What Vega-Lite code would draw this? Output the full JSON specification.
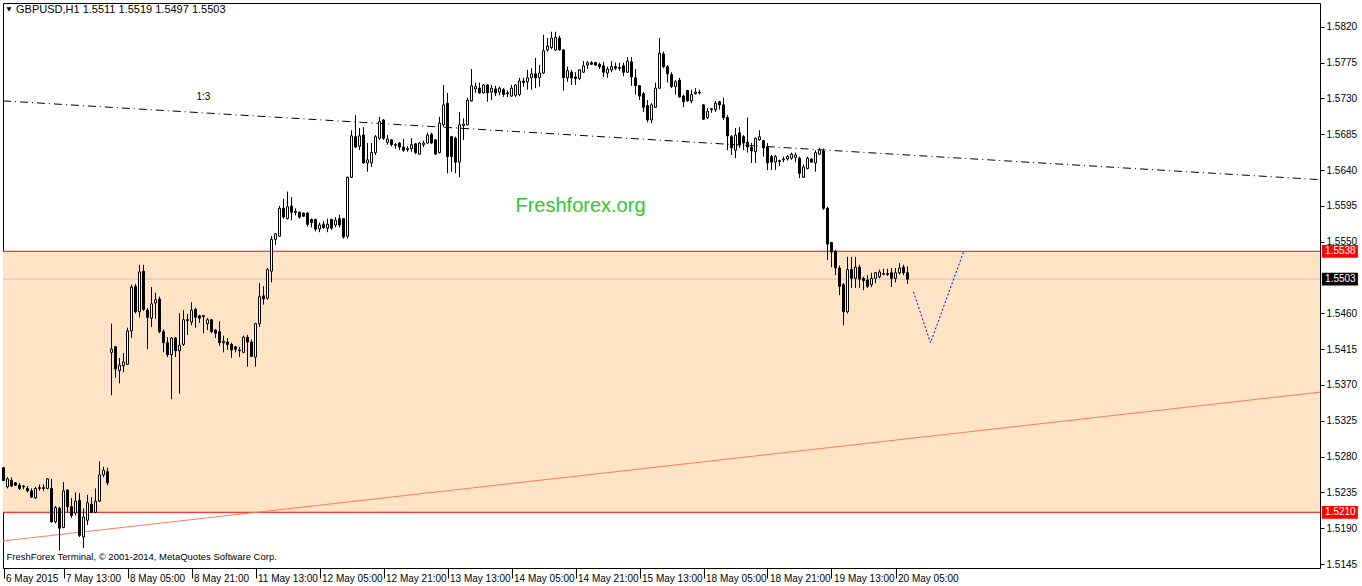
{
"$schema": "https://vega.github.io/schema/vega-lite/v6.json",
"width": 1317, "height": 565,
"autosize": {"type": "none"},
"padding": {"left": 3, "top": 3, "right": 42, "bottom": 18},
"background": "white",
"config": {"view": {"stroke": "black", "strokeWidth": 1}, "font": "Liberation Sans", "axis": {"labelOverlap": false, "grid": false}, "scale": {"continuousPadding": 0}},
"datasets": {
"candles": [
{"i":0,"o":1.5266,"h":1.5267,"l":1.5249,"c":1.5250},
{"i":1,"o":1.5242,"h":1.5254,"l":1.5240,"c":1.5252},
{"i":2,"o":1.5250,"h":1.5254,"l":1.5242,"c":1.5243},
{"i":3,"o":1.5247,"h":1.5248,"l":1.5243,"c":1.5244},
{"i":4,"o":1.5244,"h":1.5247,"l":1.5238,"c":1.5240},
{"i":5,"o":1.5243,"h":1.5244,"l":1.5239,"c":1.5242},
{"i":6,"o":1.5240,"h":1.5243,"l":1.5235,"c":1.5237},
{"i":7,"o":1.5237,"h":1.5240,"l":1.5228,"c":1.5229},
{"i":8,"o":1.5228,"h":1.5242,"l":1.5227,"c":1.5240},
{"i":9,"o":1.5240,"h":1.5245,"l":1.5237,"c":1.5241},
{"i":10,"o":1.5241,"h":1.5245,"l":1.5237,"c":1.5240},
{"i":11,"o":1.5240,"h":1.5253,"l":1.5239,"c":1.5252},
{"i":12,"o":1.5240,"h":1.5252,"l":1.5197,"c":1.5198},
{"i":13,"o":1.5198,"h":1.5218,"l":1.5196,"c":1.5216},
{"i":14,"o":1.5215,"h":1.5217,"l":1.5162,"c":1.5190},
{"i":15,"o":1.5191,"h":1.5248,"l":1.5190,"c":1.5237},
{"i":16,"o":1.5238,"h":1.5239,"l":1.5210,"c":1.5217},
{"i":17,"o":1.5217,"h":1.5228,"l":1.5203,"c":1.5206},
{"i":18,"o":1.5209,"h":1.5235,"l":1.5206,"c":1.5224},
{"i":19,"o":1.5225,"h":1.5234,"l":1.5179,"c":1.5181},
{"i":20,"o":1.5179,"h":1.5215,"l":1.5165,"c":1.5204},
{"i":21,"o":1.5200,"h":1.5232,"l":1.5194,"c":1.5222},
{"i":22,"o":1.5220,"h":1.5229,"l":1.5209,"c":1.5210},
{"i":23,"o":1.5210,"h":1.5240,"l":1.5209,"c":1.5224},
{"i":24,"o":1.5224,"h":1.5274,"l":1.5223,"c":1.5257},
{"i":25,"o":1.5257,"h":1.5267,"l":1.5254,"c":1.5263},
{"i":26,"o":1.5261,"h":1.5266,"l":1.5244,"c":1.5247},
{"i":27,"o":1.5411,"h":1.5447,"l":1.5357,"c":1.5415},
{"i":28,"o":1.5418,"h":1.5419,"l":1.5379,"c":1.5390},
{"i":29,"o":1.5388,"h":1.5404,"l":1.5372,"c":1.5395},
{"i":30,"o":1.5394,"h":1.5410,"l":1.5386,"c":1.5399},
{"i":31,"o":1.5396,"h":1.5442,"l":1.5395,"c":1.5438},
{"i":32,"o":1.5438,"h":1.5496,"l":1.5429,"c":1.5493},
{"i":33,"o":1.5494,"h":1.5497,"l":1.5460,"c":1.5462},
{"i":34,"o":1.5462,"h":1.5521,"l":1.5455,"c":1.5512},
{"i":35,"o":1.5513,"h":1.5521,"l":1.5463,"c":1.5465},
{"i":36,"o":1.5464,"h":1.5467,"l":1.5415,"c":1.5455},
{"i":37,"o":1.5454,"h":1.5493,"l":1.5443,"c":1.5472},
{"i":38,"o":1.5473,"h":1.5486,"l":1.5453,"c":1.5477},
{"i":39,"o":1.5478,"h":1.5481,"l":1.5435,"c":1.5437},
{"i":40,"o":1.5437,"h":1.5440,"l":1.5411,"c":1.5423},
{"i":41,"o":1.5423,"h":1.5430,"l":1.5405,"c":1.5408},
{"i":42,"o":1.5408,"h":1.5430,"l":1.5352,"c":1.5429},
{"i":43,"o":1.5429,"h":1.5430,"l":1.5405,"c":1.5413},
{"i":44,"o":1.5413,"h":1.5460,"l":1.5359,"c":1.5420},
{"i":45,"o":1.5421,"h":1.5464,"l":1.5419,"c":1.5452},
{"i":46,"o":1.5452,"h":1.5459,"l":1.5433,"c":1.5451},
{"i":47,"o":1.5449,"h":1.5474,"l":1.5445,"c":1.5464},
{"i":48,"o":1.5465,"h":1.5467,"l":1.5442,"c":1.5455},
{"i":49,"o":1.5457,"h":1.5458,"l":1.5448,"c":1.5454},
{"i":50,"o":1.5457,"h":1.5458,"l":1.5435,"c":1.5456},
{"i":51,"o":1.5447,"h":1.5454,"l":1.5439,"c":1.5452},
{"i":52,"o":1.5452,"h":1.5453,"l":1.5435,"c":1.5437},
{"i":53,"o":1.5439,"h":1.5440,"l":1.5429,"c":1.5435},
{"i":54,"o":1.5437,"h":1.5450,"l":1.5419,"c":1.5423},
{"i":55,"o":1.5423,"h":1.5432,"l":1.5411,"c":1.5425},
{"i":56,"o":1.5424,"h":1.5429,"l":1.5414,"c":1.5421},
{"i":57,"o":1.5421,"h":1.5423,"l":1.5404,"c":1.5414},
{"i":58,"o":1.5418,"h":1.5419,"l":1.5411,"c":1.5415},
{"i":59,"o":1.5414,"h":1.5418,"l":1.5405,"c":1.5413},
{"i":60,"o":1.5411,"h":1.5432,"l":1.5410,"c":1.5430},
{"i":61,"o":1.5430,"h":1.5433,"l":1.5393,"c":1.5424},
{"i":62,"o":1.5424,"h":1.5427,"l":1.5405,"c":1.5406},
{"i":63,"o":1.5405,"h":1.5448,"l":1.5393,"c":1.5447},
{"i":64,"o":1.5447,"h":1.5498,"l":1.5443,"c":1.5481},
{"i":65,"o":1.5482,"h":1.5494,"l":1.5471,"c":1.5478},
{"i":66,"o":1.5479,"h":1.5517,"l":1.5477,"c":1.5515},
{"i":67,"o":1.5513,"h":1.5557,"l":1.5499,"c":1.5553},
{"i":68,"o":1.5553,"h":1.5561,"l":1.5546,"c":1.5560},
{"i":69,"o":1.5557,"h":1.5595,"l":1.5556,"c":1.5592},
{"i":70,"o":1.5592,"h":1.5604,"l":1.5579,"c":1.5581},
{"i":71,"o":1.5579,"h":1.5613,"l":1.5578,"c":1.5594},
{"i":72,"o":1.5595,"h":1.5606,"l":1.5577,"c":1.5587},
{"i":73,"o":1.5588,"h":1.5592,"l":1.5583,"c":1.5587},
{"i":74,"o":1.5587,"h":1.5588,"l":1.5579,"c":1.5581},
{"i":75,"o":1.5586,"h":1.5587,"l":1.5581,"c":1.5582},
{"i":76,"o":1.5586,"h":1.5587,"l":1.5569,"c":1.5572},
{"i":77,"o":1.5578,"h":1.5579,"l":1.5568,"c":1.5574},
{"i":78,"o":1.5578,"h":1.5579,"l":1.5563,"c":1.5566},
{"i":79,"o":1.5566,"h":1.5574,"l":1.5562,"c":1.5571},
{"i":80,"o":1.5572,"h":1.5576,"l":1.5566,"c":1.5568},
{"i":81,"o":1.5567,"h":1.5579,"l":1.5562,"c":1.5572},
{"i":82,"o":1.5578,"h":1.5579,"l":1.5565,"c":1.5567},
{"i":83,"o":1.5571,"h":1.5581,"l":1.5568,"c":1.5577},
{"i":84,"o":1.5579,"h":1.5584,"l":1.5568,"c":1.5571},
{"i":85,"o":1.5579,"h":1.5580,"l":1.5554,"c":1.5556},
{"i":86,"o":1.5557,"h":1.5632,"l":1.5554,"c":1.5631},
{"i":87,"o":1.5631,"h":1.5690,"l":1.5630,"c":1.5683},
{"i":88,"o":1.5682,"h":1.5709,"l":1.5668,"c":1.5669},
{"i":89,"o":1.5670,"h":1.5693,"l":1.5665,"c":1.5683},
{"i":90,"o":1.5684,"h":1.5694,"l":1.5648,"c":1.5649},
{"i":91,"o":1.5649,"h":1.5674,"l":1.5638,"c":1.5653},
{"i":92,"o":1.5649,"h":1.5674,"l":1.5644,"c":1.5662},
{"i":93,"o":1.5662,"h":1.5684,"l":1.5659,"c":1.5682},
{"i":94,"o":1.5680,"h":1.5707,"l":1.5678,"c":1.5701},
{"i":95,"o":1.5703,"h":1.5704,"l":1.5678,"c":1.5680},
{"i":96,"o":1.5675,"h":1.5684,"l":1.5672,"c":1.5679},
{"i":97,"o":1.5678,"h":1.5679,"l":1.5670,"c":1.5672},
{"i":98,"o":1.5672,"h":1.5674,"l":1.5667,"c":1.5671},
{"i":99,"o":1.5674,"h":1.5675,"l":1.5665,"c":1.5669},
{"i":100,"o":1.5669,"h":1.5679,"l":1.5663,"c":1.5665},
{"i":101,"o":1.5667,"h":1.5670,"l":1.5663,"c":1.5666},
{"i":102,"o":1.5667,"h":1.5680,"l":1.5663,"c":1.5672},
{"i":103,"o":1.5673,"h":1.5674,"l":1.5660,"c":1.5662},
{"i":104,"o":1.5660,"h":1.5675,"l":1.5659,"c":1.5674},
{"i":105,"o":1.5672,"h":1.5677,"l":1.5669,"c":1.5674},
{"i":106,"o":1.5674,"h":1.5687,"l":1.5673,"c":1.5684},
{"i":107,"o":1.5685,"h":1.5687,"l":1.5673,"c":1.5674},
{"i":108,"o":1.5678,"h":1.5679,"l":1.5659,"c":1.5660},
{"i":109,"o":1.5662,"h":1.5707,"l":1.5661,"c":1.5699},
{"i":110,"o":1.5697,"h":1.5747,"l":1.5694,"c":1.5722},
{"i":111,"o":1.5724,"h":1.5737,"l":1.5636,"c":1.5657},
{"i":112,"o":1.5682,"h":1.5683,"l":1.5638,"c":1.5657},
{"i":113,"o":1.5680,"h":1.5682,"l":1.5636,"c":1.5650},
{"i":114,"o":1.5650,"h":1.5713,"l":1.5631,"c":1.5697},
{"i":115,"o":1.5696,"h":1.5705,"l":1.5678,"c":1.5698},
{"i":116,"o":1.5697,"h":1.5731,"l":1.5696,"c":1.5728},
{"i":117,"o":1.5727,"h":1.5767,"l":1.5726,"c":1.5746},
{"i":118,"o":1.5742,"h":1.5750,"l":1.5737,"c":1.5745},
{"i":119,"o":1.5743,"h":1.5750,"l":1.5736,"c":1.5737},
{"i":120,"o":1.5737,"h":1.5748,"l":1.5736,"c":1.5747},
{"i":121,"o":1.5747,"h":1.5748,"l":1.5726,"c":1.5737},
{"i":122,"o":1.5738,"h":1.5747,"l":1.5728,"c":1.5743},
{"i":123,"o":1.5742,"h":1.5746,"l":1.5733,"c":1.5737},
{"i":124,"o":1.5738,"h":1.5745,"l":1.5734,"c":1.5743},
{"i":125,"o":1.5741,"h":1.5743,"l":1.5732,"c":1.5735},
{"i":126,"o":1.5737,"h":1.5740,"l":1.5732,"c":1.5736},
{"i":127,"o":1.5733,"h":1.5747,"l":1.5732,"c":1.5743},
{"i":128,"o":1.5734,"h":1.5748,"l":1.5732,"c":1.5747},
{"i":129,"o":1.5735,"h":1.5756,"l":1.5733,"c":1.5752},
{"i":130,"o":1.5752,"h":1.5756,"l":1.5745,"c":1.5750},
{"i":131,"o":1.5751,"h":1.5766,"l":1.5741,"c":1.5756},
{"i":132,"o":1.5756,"h":1.5768,"l":1.5741,"c":1.5761},
{"i":133,"o":1.5761,"h":1.5781,"l":1.5743,"c":1.5756},
{"i":134,"o":1.5756,"h":1.5772,"l":1.5745,"c":1.5762},
{"i":135,"o":1.5762,"h":1.5810,"l":1.5761,"c":1.5790},
{"i":136,"o":1.5791,"h":1.5806,"l":1.5789,"c":1.5796},
{"i":137,"o":1.5794,"h":1.5814,"l":1.5792,"c":1.5806},
{"i":138,"o":1.5791,"h":1.5814,"l":1.5790,"c":1.5807},
{"i":139,"o":1.5806,"h":1.5809,"l":1.5790,"c":1.5791},
{"i":140,"o":1.5791,"h":1.5792,"l":1.5740,"c":1.5756},
{"i":141,"o":1.5756,"h":1.5770,"l":1.5751,"c":1.5765},
{"i":142,"o":1.5763,"h":1.5766,"l":1.5747,"c":1.5756},
{"i":143,"o":1.5757,"h":1.5763,"l":1.5747,"c":1.5755},
{"i":144,"o":1.5755,"h":1.5767,"l":1.5753,"c":1.5766},
{"i":145,"o":1.5763,"h":1.5777,"l":1.5762,"c":1.5771},
{"i":146,"o":1.5772,"h":1.5777,"l":1.5767,"c":1.5775},
{"i":147,"o":1.5775,"h":1.5777,"l":1.5772,"c":1.5773},
{"i":148,"o":1.5775,"h":1.5776,"l":1.5771,"c":1.5772},
{"i":149,"o":1.5773,"h":1.5775,"l":1.5767,"c":1.5770},
{"i":150,"o":1.5771,"h":1.5776,"l":1.5757,"c":1.5763},
{"i":151,"o":1.5762,"h":1.5770,"l":1.5756,"c":1.5767},
{"i":152,"o":1.5766,"h":1.5777,"l":1.5763,"c":1.5770},
{"i":153,"o":1.5770,"h":1.5775,"l":1.5766,"c":1.5768},
{"i":154,"o":1.5769,"h":1.5775,"l":1.5765,"c":1.5768},
{"i":155,"o":1.5771,"h":1.5775,"l":1.5758,"c":1.5763},
{"i":156,"o":1.5763,"h":1.5782,"l":1.5762,"c":1.5777},
{"i":157,"o":1.5776,"h":1.5782,"l":1.5746,"c":1.5757},
{"i":158,"o":1.5756,"h":1.5767,"l":1.5735,"c":1.5746},
{"i":159,"o":1.5746,"h":1.5747,"l":1.5728,"c":1.5733},
{"i":160,"o":1.5736,"h":1.5738,"l":1.5713,"c":1.5719},
{"i":161,"o":1.5721,"h":1.5728,"l":1.5700,"c":1.5703},
{"i":162,"o":1.5703,"h":1.5724,"l":1.5699,"c":1.5722},
{"i":163,"o":1.5719,"h":1.5750,"l":1.5718,"c":1.5743},
{"i":164,"o":1.5743,"h":1.5806,"l":1.5742,"c":1.5787},
{"i":165,"o":1.5786,"h":1.5789,"l":1.5768,"c":1.5770},
{"i":166,"o":1.5770,"h":1.5772,"l":1.5750,"c":1.5761},
{"i":167,"o":1.5760,"h":1.5763,"l":1.5743,"c":1.5745},
{"i":168,"o":1.5745,"h":1.5753,"l":1.5735,"c":1.5751},
{"i":169,"o":1.5753,"h":1.5756,"l":1.5731,"c":1.5732},
{"i":170,"o":1.5733,"h":1.5735,"l":1.5719,"c":1.5726},
{"i":171,"o":1.5740,"h":1.5741,"l":1.5726,"c":1.5727},
{"i":172,"o":1.5727,"h":1.5741,"l":1.5724,"c":1.5735},
{"i":173,"o":1.5736,"h":1.5743,"l":1.5735,"c":1.5738},
{"i":174,"o":1.5738,"h":1.5741,"l":1.5735,"c":1.5737},
{"i":175,"o":1.5722,"h":1.5723,"l":1.5703,"c":1.5704},
{"i":176,"o":1.5706,"h":1.5718,"l":1.5704,"c":1.5714},
{"i":177,"o":1.5716,"h":1.5718,"l":1.5712,"c":1.5717},
{"i":178,"o":1.5716,"h":1.5727,"l":1.5713,"c":1.5724},
{"i":179,"o":1.5726,"h":1.5727,"l":1.5716,"c":1.5722},
{"i":180,"o":1.5722,"h":1.5731,"l":1.5703,"c":1.5706},
{"i":181,"o":1.5706,"h":1.5709,"l":1.5665,"c":1.5683},
{"i":182,"o":1.5682,"h":1.5684,"l":1.5659,"c":1.5668},
{"i":183,"o":1.5665,"h":1.5693,"l":1.5655,"c":1.5684},
{"i":184,"o":1.5687,"h":1.5694,"l":1.5668,"c":1.5672},
{"i":185,"o":1.5682,"h":1.5684,"l":1.5665,"c":1.5674},
{"i":186,"o":1.5675,"h":1.5706,"l":1.5662,"c":1.5669},
{"i":187,"o":1.5669,"h":1.5674,"l":1.5649,"c":1.5664},
{"i":188,"o":1.5663,"h":1.5681,"l":1.5649,"c":1.5680},
{"i":189,"o":1.5678,"h":1.5690,"l":1.5677,"c":1.5682},
{"i":190,"o":1.5677,"h":1.5678,"l":1.5657,"c":1.5668},
{"i":191,"o":1.5669,"h":1.5674,"l":1.5640,"c":1.5649},
{"i":192,"o":1.5657,"h":1.5659,"l":1.5640,"c":1.5650},
{"i":193,"o":1.5650,"h":1.5659,"l":1.5640,"c":1.5657},
{"i":194,"o":1.5652,"h":1.5653,"l":1.5645,"c":1.5651},
{"i":195,"o":1.5653,"h":1.5657,"l":1.5650,"c":1.5654},
{"i":196,"o":1.5654,"h":1.5659,"l":1.5652,"c":1.5657},
{"i":197,"o":1.5655,"h":1.5662,"l":1.5653,"c":1.5660},
{"i":198,"o":1.5656,"h":1.5662,"l":1.5650,"c":1.5659},
{"i":199,"o":1.5655,"h":1.5657,"l":1.5630,"c":1.5636},
{"i":200,"o":1.5631,"h":1.5647,"l":1.5630,"c":1.5644},
{"i":201,"o":1.5642,"h":1.5657,"l":1.5641,"c":1.5655},
{"i":202,"o":1.5654,"h":1.5655,"l":1.5649,"c":1.5650},
{"i":203,"o":1.5649,"h":1.5665,"l":1.5638,"c":1.5662},
{"i":204,"o":1.5660,"h":1.5668,"l":1.5659,"c":1.5665},
{"i":205,"o":1.5664,"h":1.5667,"l":1.5590,"c":1.5592},
{"i":206,"o":1.5592,"h":1.5594,"l":1.5527,"c":1.5547},
{"i":207,"o":1.5549,"h":1.5550,"l":1.5518,"c":1.5537},
{"i":208,"o":1.5538,"h":1.5540,"l":1.5508,"c":1.5517},
{"i":209,"o":1.5517,"h":1.5520,"l":1.5483,"c":1.5494},
{"i":210,"o":1.5496,"h":1.5498,"l":1.5445,"c":1.5462},
{"i":211,"o":1.5462,"h":1.5531,"l":1.5460,"c":1.5515},
{"i":212,"o":1.5515,"h":1.5531,"l":1.5492,"c":1.5504},
{"i":213,"o":1.5504,"h":1.5531,"l":1.5492,"c":1.5518},
{"i":214,"o":1.5518,"h":1.5521,"l":1.5492,"c":1.5503},
{"i":215,"o":1.5504,"h":1.5506,"l":1.5489,"c":1.5501},
{"i":216,"o":1.5502,"h":1.5508,"l":1.5492,"c":1.5494},
{"i":217,"o":1.5496,"h":1.5511,"l":1.5493,"c":1.5504},
{"i":218,"o":1.5504,"h":1.5512,"l":1.5498,"c":1.5511},
{"i":219,"o":1.5506,"h":1.5515,"l":1.5504,"c":1.5512},
{"i":220,"o":1.5509,"h":1.5516,"l":1.5508,"c":1.5510},
{"i":221,"o":1.5510,"h":1.5516,"l":1.5507,"c":1.5509},
{"i":222,"o":1.5511,"h":1.5517,"l":1.5493,"c":1.5504},
{"i":223,"o":1.5504,"h":1.5517,"l":1.5499,"c":1.5511},
{"i":224,"o":1.5511,"h":1.5523,"l":1.5509,"c":1.5517},
{"i":225,"o":1.5518,"h":1.5521,"l":1.5508,"c":1.5511},
{"i":226,"o":1.5511,"h":1.5519,"l":1.5497,"c":1.5503}
],
"trend": [{"i":-0.125,"p":1.5174},{"i":329.125,"p":1.5361}],
"fib": [{"i":-0.125,"p":1.5727},{"i":329.125,"p":1.5628}],
"path": [{"i":227.5,"p":1.5487},{"i":231.75,"p":1.5423},{"i":240,"p":1.5537}]
},
"layer": [
{"data": {"values": [{}]},
 "mark": {"type": "rect", "color": "#fee3c5"},
 "encoding": {
  "x": {"datum": -0.125, "type": "quantitative", "scale": {"domain": [-0.125, 329.125], "nice": false, "zero": false, "padding": 0},
   "axis": {"orient": "bottom", "title": null, "grid": false, "domain": false, "tickColor": "black", "tickSize": 10,
    "values": [0,15,31,47,63,79,95,111,127,143,159,175,191,207,223],
    "labelExpr": "datum.value == 0 ? '6 May 2015' : ['7 May 13:00','8 May 05:00','8 May 21:00','11 May 13:00','12 May 05:00','12 May 21:00','13 May 13:00','14 May 05:00','14 May 21:00','15 May 13:00','18 May 05:00','18 May 21:00','19 May 13:00','20 May 05:00'][(datum.value-15)/16]",
    "labelAlign": "left", "labelBaseline": "top", "labelPadding": -5, "labelOffset": 2, "labelFontSize": 10, "labelColor": "black", "labelFlush": false, "labelOverlap": false}},
  "x2": {"datum": 329.125},
  "y": {"datum": 1.5538, "type": "quantitative", "scale": {"domain": [1.514, 1.585], "nice": false, "zero": false, "padding": 0},
   "axis": {"orient": "right", "title": null, "grid": false, "domain": false, "tickColor": "black", "tickSize": 4,
    "values": [1.5145,1.5190,1.5235,1.5280,1.5325,1.5370,1.5415,1.5460,1.5550,1.5595,1.5640,1.5685,1.5730,1.5775,1.5820],
    "format": ".4f", "labelPadding": 2, "labelFontSize": 10, "labelColor": "black", "labelFlush": false, "labelOverlap": false}},
  "y2": {"datum": 1.5210}
 }},
{"data": {"values": [{}]}, "mark": {"type": "rule", "color": "#c0c0c0", "strokeWidth": 1},
 "encoding": {"y": {"datum": 1.5503, "type": "quantitative"}}},
{"data": {"values": [{}]}, "mark": {"type": "rule", "color": "#ff0000", "strokeWidth": 1},
 "encoding": {"y": {"datum": 1.5538, "type": "quantitative"}}},
{"data": {"values": [{}]}, "mark": {"type": "rule", "color": "#ff0000", "strokeWidth": 1},
 "encoding": {"y": {"datum": 1.5210, "type": "quantitative"}}},
{"data": {"name": "trend"}, "mark": {"type": "line", "color": "#fa7c5c", "strokeWidth": 1},
 "encoding": {"x": {"field": "i", "type": "quantitative"}, "y": {"field": "p", "type": "quantitative"}}},
{"data": {"name": "fib"}, "mark": {"type": "line", "color": "black", "strokeWidth": 1, "strokeDash": [8, 4, 1, 4]},
 "encoding": {"x": {"field": "i", "type": "quantitative"}, "y": {"field": "p", "type": "quantitative"}}},
{"data": {"name": "candles"}, "mark": {"type": "rule", "color": "black", "strokeWidth": 1},
 "encoding": {"x": {"field": "i", "type": "quantitative"}, "y": {"field": "l", "type": "quantitative"}, "y2": {"field": "h"}}},
{"data": {"name": "candles"}, "mark": {"type": "bar", "width": 2, "stroke": "black", "strokeWidth": 1},
 "encoding": {"x": {"field": "i", "type": "quantitative"}, "y": {"field": "o", "type": "quantitative"}, "y2": {"field": "c"},
  "fill": {"condition": {"test": "datum.c > datum.o", "value": "white"}, "value": "black"}}},
{"data": {"name": "path"}, "mark": {"type": "line", "color": "#0000ff", "strokeWidth": 1, "strokeDash": [2, 2]},
 "encoding": {"x": {"field": "i", "type": "quantitative"}, "y": {"field": "p", "type": "quantitative"}}},
{"data": {"values": [{}]}, "mark": {"type": "text", "text": "1:3", "align": "left", "baseline": "middle", "fontSize": 10, "color": "black"},
 "encoding": {"x": {"datum": 48.25, "type": "quantitative"}, "y": {"datum": 1.5732, "type": "quantitative"}}},
{"data": {"values": [{}]}, "mark": {"type": "text", "text": "Freshforex.org", "align": "center", "baseline": "middle", "fontSize": 20, "color": "#2ec82e", "font": "Liberation Sans"},
 "encoding": {"x": {"datum": 144.25, "type": "quantitative"}, "y": {"datum": 1.5595, "type": "quantitative"}}},
{"data": {"values": [{}]}, "mark": {"type": "point", "shape": "triangle-down", "filled": true, "color": "black", "size": 25, "opacity": 1},
 "encoding": {"x": {"datum": 1.375, "type": "quantitative"}, "y": {"datum": 1.5842, "type": "quantitative"}}},
{"data": {"values": [{}]}, "mark": {"type": "text", "text": "GBPUSD,H1  1.5511 1.5519 1.5497 1.5503", "align": "left", "baseline": "middle", "fontSize": 11, "color": "black"},
 "encoding": {"x": {"datum": 3.125, "type": "quantitative"}, "y": {"datum": 1.5841, "type": "quantitative"}}},
{"data": {"values": [{}]}, "mark": {"type": "text", "text": "FreshForex Terminal, © 2001-2014, MetaQuotes Software Corp.", "align": "left", "baseline": "middle", "fontSize": 9.5, "color": "black"},
 "encoding": {"x": {"datum": 0.75, "type": "quantitative"}, "y": {"datum": 1.5154, "type": "quantitative"}}},
{"data": {"values": [{}]}, "mark": {"type": "rect", "color": "#ff0000", "clip": false},
 "encoding": {"x": {"datum": 329.6, "type": "quantitative"}, "x2": {"datum": 338.6}, "y": {"datum": 1.5546, "type": "quantitative"}, "y2": {"datum": 1.5530}}},
{"data": {"values": [{}]}, "mark": {"type": "rect", "color": "#000000", "clip": false},
 "encoding": {"x": {"datum": 329.6, "type": "quantitative"}, "x2": {"datum": 338.6}, "y": {"datum": 1.5511, "type": "quantitative"}, "y2": {"datum": 1.5495}}},
{"data": {"values": [{}]}, "mark": {"type": "rect", "color": "#ff0000", "clip": false},
 "encoding": {"x": {"datum": 329.6, "type": "quantitative"}, "x2": {"datum": 338.6}, "y": {"datum": 1.5218, "type": "quantitative"}, "y2": {"datum": 1.5202}}},
{"data": {"values": [{}]}, "mark": {"type": "text", "text": "1.5538", "align": "left", "baseline": "middle", "fontSize": 10, "color": "white", "clip": false},
 "encoding": {"x": {"datum": 330.4, "type": "quantitative"}, "y": {"datum": 1.5538, "type": "quantitative"}}},
{"data": {"values": [{}]}, "mark": {"type": "text", "text": "1.5503", "align": "left", "baseline": "middle", "fontSize": 10, "color": "white", "clip": false},
 "encoding": {"x": {"datum": 330.4, "type": "quantitative"}, "y": {"datum": 1.5503, "type": "quantitative"}}},
{"data": {"values": [{}]}, "mark": {"type": "text", "text": "1.5210", "align": "left", "baseline": "middle", "fontSize": 10, "color": "white", "clip": false},
 "encoding": {"x": {"datum": 330.4, "type": "quantitative"}, "y": {"datum": 1.5210, "type": "quantitative"}}}
]
}
